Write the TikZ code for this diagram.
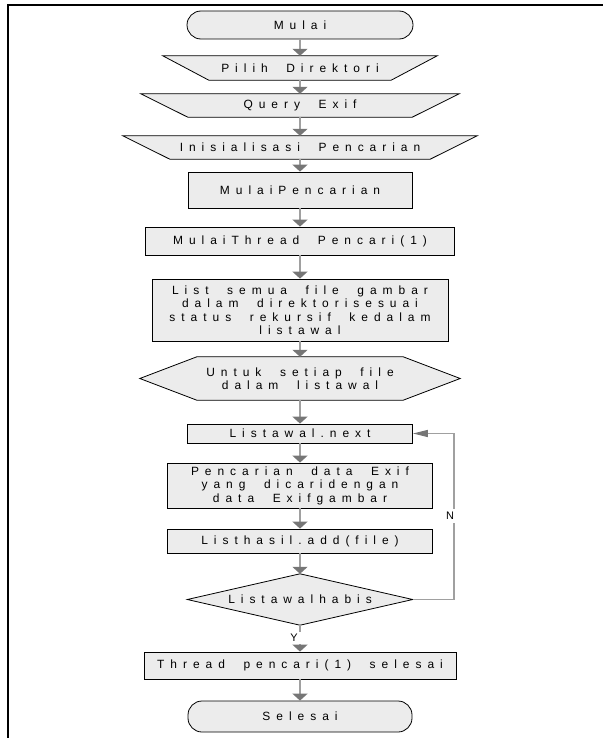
\documentclass[tikz,border=0pt]{standalone}
\usepackage{fontspec}
\setmainfont{Liberation Sans}
\newfontfamily\spfont[LetterSpace=50,WordSpace=2]{Liberation Sans}
\usetikzlibrary{arrows.meta,backgrounds}
\definecolor{boxfill}{RGB}{236,236,236}
\definecolor{linegray}{RGB}{160,160,160}
\definecolor{headgray}{RGB}{118,118,118}
\begin{document}
\begin{tikzpicture}[x=1bp,y=-1bp,
  every node/.style={font=\spfont\fontsize{12}{13.5}\selectfont, inner sep=0pt, align=center},
  shp/.style={rectangle, draw=none},
  rbox/.style={rectangle, draw=black, fill=boxfill, line width=0.8bp},
  term/.style={rbox, rounded corners=14bp},
  outline/.style={draw=black, fill=boxfill, line width=0.8bp},
  flow/.style={draw=linegray, line width=2bp, -{Triangle[width=15bp,length=7bp,color=headgray]}},
  back/.style={draw=linegray, line width=1.2bp, -{Triangle[width=7bp,length=15bp,color=headgray]}},
  lbl/.style={font=\fontsize{11}{13}\selectfont, fill=white}
]
\useasboundingbox (0,0) rectangle (603,738);
\draw[line width=2.5bp] (8,738) -- (8,5) -- (603,5);

\node[term, minimum width=226bp, minimum height=28bp] (mulai) at (300,25) {Mulai};
\node[shp, minimum width=274bp, minimum height=24bp] (pilih) at (300,68) {Pilih Direktori};
\node[shp, minimum width=318bp, minimum height=23bp] (query) at (300,105.5) {Query Exif};
\node[shp, minimum width=354bp, minimum height=23bp] (inisial) at (300,147.5) {Inisialisasi Pencarian};
\node[rbox, minimum width=224bp, minimum height=36bp] (mpc) at (300,190) {MulaiPencarian};
\node[rbox, minimum width=309bp, minimum height=28bp] (mthr) at (300,241) {MulaiThread Pencari(1)};
\node[rbox, minimum width=296bp, minimum height=62bp] (list) at (300,310) {List semua file gambar\\dalam direktorisesuai\\status rekursif kedalam\\listawal};
\node[shp, minimum width=320bp, minimum height=43bp] (untuk) at (300,378.5) {Untuk setiap file\\dalam listawal};
\node[rbox, minimum width=225bp, minimum height=19bp] (next) at (300,433.5) {Listawal.next};
\node[rbox, minimum width=265bp, minimum height=45bp] (cari) at (300,485.5) {Pencarian data Exif\\yang dicaridengan\\data Exifgambar};
\node[rbox, minimum width=265bp, minimum height=24bp] (add) at (300,541) {Listhasil.add(file)};
\node[shp, minimum width=225bp, minimum height=51bp] (habis) at (300,599.5) {Listawalhabis};
\node[rbox, minimum width=312bp, minimum height=27bp] (thread) at (300,665.5) {Thread pencari(1) selesai};
\node[term, minimum width=224bp, minimum height=31bp] (selesai) at (300,716.5) {Selesai};

\begin{scope}[on background layer]
\path[outline] (pilih.north west) -- (pilih.north east) -- ([xshift=-46bp]pilih.south east) -- ([xshift=46bp]pilih.south west) -- cycle;
\path[outline] (query.north west) -- (query.north east) -- ([xshift=-47bp]query.south east) -- ([xshift=47bp]query.south west) -- cycle;
\path[outline] (inisial.north west) -- (inisial.north east) -- ([xshift=-47bp]inisial.south east) -- ([xshift=47bp]inisial.south west) -- cycle;
\path[outline] (untuk.west) -- ([xshift=57bp]untuk.north west) -- ([xshift=-57bp]untuk.north east) -- (untuk.east) -- ([xshift=-57bp]untuk.south east) -- ([xshift=57bp]untuk.south west) -- cycle;
\path[outline] (habis.north) -- (habis.east) -- (habis.south) -- (habis.west) -- cycle;
\end{scope}

\foreach \a/\b in {mulai/pilih, pilih/query, query/inisial, inisial/mpc, mpc/mthr, mthr/list, list/untuk, untuk/next, next/cari, cari/add, add/habis, habis/thread, thread/selesai}
  \draw[flow] (\a.south) -- (\b.north);

\coordinate (loopc) at (454,599.5);
\draw[back] (habis.east) -- (loopc) |- (next.east);
\node[lbl, minimum width=12bp, minimum height=14bp] (nlab) at (450,516) {N};
\node[lbl, minimum width=14bp, minimum height=12bp] (ylab) at (294,638) {Y};
\end{tikzpicture}
\end{document}
